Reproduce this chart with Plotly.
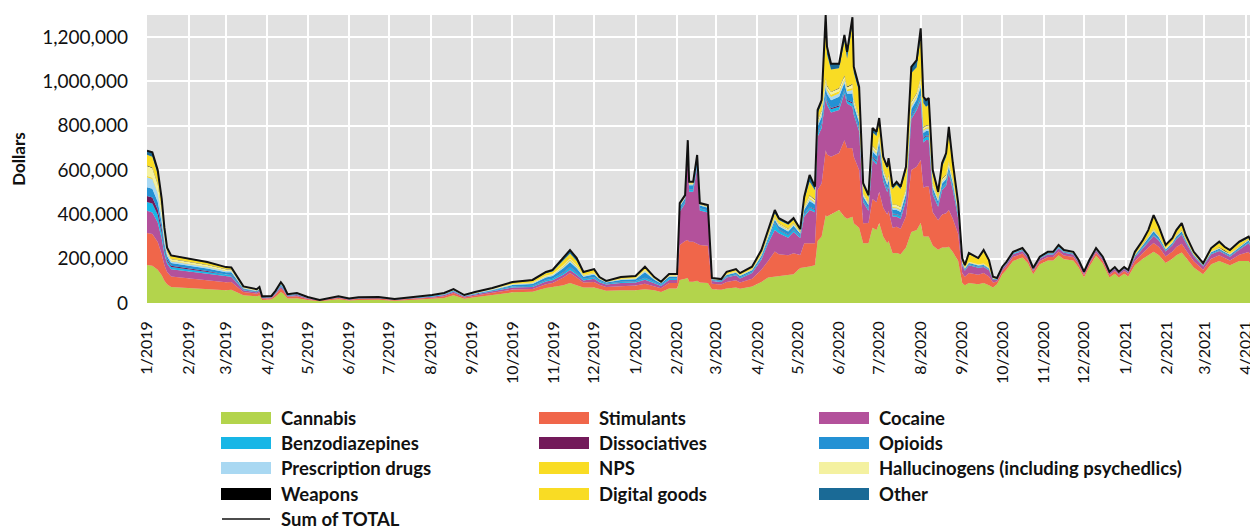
import plotly.graph_objects as go

# daily sales by drug category (thousands of dollars)
dates = [
    "2019-01-01", "2019-01-05", "2019-01-09", "2019-01-12", "2019-01-14", "2019-01-16", "2019-01-19", "2019-02-01", "2019-02-15", "2019-03-01",
    "2019-03-05", "2019-03-14", "2019-03-24", "2019-03-26", "2019-03-28", "2019-04-04", "2019-04-07", "2019-04-11", "2019-04-13", "2019-04-16",
    "2019-04-23", "2019-05-01", "2019-05-10", "2019-05-24", "2019-06-01", "2019-06-08", "2019-06-23", "2019-07-05", "2019-07-20", "2019-08-02",
    "2019-08-11", "2019-08-18", "2019-08-26", "2019-09-03", "2019-09-16", "2019-10-01", "2019-10-16", "2019-10-26", "2019-10-31", "2019-11-08",
    "2019-11-13", "2019-11-18", "2019-11-23", "2019-12-01", "2019-12-05", "2019-12-10", "2019-12-21", "2020-01-01", "2020-01-08", "2020-01-15",
    "2020-01-20", "2020-01-26", "2020-02-01", "2020-02-03", "2020-02-07", "2020-02-09", "2020-02-10", "2020-02-13", "2020-02-16", "2020-02-18",
    "2020-02-24", "2020-02-27", "2020-03-05", "2020-03-09", "2020-03-16", "2020-03-19", "2020-03-28", "2020-04-04", "2020-04-09", "2020-04-14",
    "2020-04-17", "2020-04-24", "2020-04-28", "2020-05-03", "2020-05-06", "2020-05-10", "2020-05-14", "2020-05-16", "2020-05-19", "2020-05-22",
    "2020-05-23", "2020-05-26", "2020-06-01", "2020-06-05", "2020-06-07", "2020-06-11", "2020-06-12", "2020-06-16", "2020-06-19", "2020-06-23",
    "2020-06-26", "2020-06-29", "2020-07-01", "2020-07-04", "2020-07-07", "2020-07-08", "2020-07-11", "2020-07-14", "2020-07-17", "2020-07-21",
    "2020-07-25", "2020-07-29", "2020-08-01", "2020-08-03", "2020-08-05", "2020-08-07", "2020-08-10", "2020-08-14", "2020-08-17", "2020-08-20",
    "2020-08-22", "2020-08-25", "2020-08-29", "2020-09-01", "2020-09-03", "2020-09-06", "2020-09-13", "2020-09-17", "2020-09-21", "2020-09-24",
    "2020-09-27", "2020-10-01", "2020-10-04", "2020-10-09", "2020-10-16", "2020-10-20", "2020-10-24", "2020-10-29", "2020-11-04", "2020-11-08",
    "2020-11-12", "2020-11-16", "2020-11-23", "2020-11-27", "2020-12-01", "2020-12-05", "2020-12-10", "2020-12-15", "2020-12-20", "2020-12-24",
    "2020-12-27", "2020-12-31", "2021-01-03", "2021-01-08", "2021-01-14", "2021-01-18", "2021-01-22", "2021-01-26", "2021-01-31", "2021-02-05",
    "2021-02-08", "2021-02-12", "2021-02-15", "2021-02-21", "2021-02-28", "2021-03-06", "2021-03-12", "2021-03-16", "2021-03-20", "2021-03-27",
    "2021-04-03", "2021-04-05",
]

cannabis = [
    171, 168, 150, 125, 100, 85, 72, 68, 62, 58,
    60, 35, 30, 34, 14, 16, 28, 50, 42, 20,
    22, 13, 8, 17, 11, 14, 15, 10, 15, 18,
    23, 35, 19, 26, 36, 48, 51, 68, 72, 80,
    90, 80, 70, 70, 62, 55, 57, 57, 62, 57,
    50, 65, 65, 104, 110, 113, 96, 96, 100, 92,
    90, 62, 60, 65, 70, 64, 75, 95, 115, 119,
    120, 125, 130, 158, 160, 165, 170, 280, 300, 396,
    390, 400, 420, 389, 380, 389, 360, 340, 270, 270,
    340, 330, 361, 300, 270, 280, 225, 226, 220, 250,
    320, 329, 361, 300, 300, 300, 260, 240, 250, 250,
    254, 230, 190, 90, 80, 90, 85, 90, 80, 70,
    85, 130, 150, 190, 205, 180, 130, 175, 192, 192,
    215, 198, 192, 160, 115, 165, 213, 178, 115, 132,
    115, 132, 120, 170, 200, 215, 231, 215, 180, 200,
    215, 228, 205, 160, 130, 175, 190, 180, 170, 190,
    190, 170,
]
stimulants = [
    145, 143, 125, 95, 70, 55, 48, 44, 42, 36,
    35, 15, 12, 14, 6, 6, 10, 15, 13, 8,
    9, 5, 3, 6, 4, 5, 5, 4, 5, 6,
    8, 10, 6, 8, 10, 13, 12, 17, 18, 35,
    45, 35, 22, 25, 20, 17, 20, 22, 25, 20,
    17, 25, 25, 158, 170, 171, 181, 181, 170, 170,
    168, 25, 24, 30, 33, 29, 35, 55, 75, 113,
    100, 90, 95, 59, 110, 105, 100, 230, 240, 294,
    280, 260, 257, 346, 320, 310, 300, 260, 90, 91,
    130, 125, 141, 130, 130, 135, 115, 118, 115, 140,
    280, 286, 284, 220, 226, 226, 150, 134, 150, 155,
    166, 150, 120, 45, 38, 45, 42, 45, 40, 22,
    12, 14, 15, 18, 18, 16, 12, 15, 16, 16,
    18, 16, 16, 14, 11, 12, 14, 13, 11, 12,
    11, 12, 12, 20, 28, 35, 40, 38, 30, 33,
    38, 40, 35, 28, 20, 25, 25, 23, 22, 28,
    40, 40,
]
cocaine = [
    100, 98, 88, 70, 50, 38, 32, 30, 28, 24,
    23, 8, 6, 7, 3, 3, 5, 8, 7, 4,
    5, 3, 1, 3, 2, 3, 3, 2, 3, 4,
    5, 6, 4, 5, 7, 9, 9, 12, 13, 12,
    14, 12, 10, 15, 12, 11, 13, 14, 18, 12,
    10, 14, 14, 150, 170, 400, 225, 225, 340, 156,
    150, 12, 11, 20, 22, 18, 25, 45, 80, 97,
    95, 80, 95, 76, 120, 150, 140, 240, 250, 235,
    225, 200, 194, 212, 200, 187, 190, 175, 96, 55,
    175, 170, 188, 120, 100, 110, 50, 45, 45, 70,
    230, 256, 271, 205, 210, 210, 80, 60, 110, 125,
    166, 130, 70, 35, 28, 35, 32, 27, 28, 12,
    8, 9, 10, 12, 12, 11, 8, 10, 11, 11,
    14, 13, 11, 10, 8, 9, 10, 9, 8, 9,
    8, 9, 8, 15, 20, 25, 31, 28, 22, 28,
    35, 40, 32, 22, 15, 20, 20, 18, 17, 22,
    40, 38,
]
benzodiazepines = [
    40, 40, 35, 27, 18, 12, 10, 9, 8, 7,
    7, 3, 2, 3, 1, 1, 2, 4, 3, 2,
    2, 1, 1, 1, 1, 1, 1, 0, 1, 2,
    2, 2, 2, 2, 3, 4, 5, 6, 6, 10,
    12, 10, 6, 6, 5, 4, 5, 5, 8, 5,
    4, 5, 5, 8, 9, 8, 10, 10, 10, 8,
    8, 3, 3, 4, 4, 4, 5, 6, 8, 32,
    15, 12, 12, 8, 10, 12, 10, 14, 15, 15,
    15, 15, 15, 12, 12, 15, 12, 12, 8, 8,
    12, 12, 12, 10, 10, 10, 10, 10, 10, 10,
    12, 12, 15, 15, 15, 15, 10, 8, 10, 10,
    10, 10, 8, 4, 3, 4, 4, 4, 3, 2,
    2, 2, 2, 3, 3, 2, 2, 2, 3, 3,
    3, 3, 3, 2, 1, 2, 2, 2, 1, 2,
    1, 2, 2, 3, 4, 4, 5, 4, 3, 3,
    3, 3, 3, 2, 2, 3, 3, 3, 3, 3,
    3, 3,
]
dissociatives = [
    27, 27, 24, 18, 12, 8, 6, 6, 5, 4,
    4, 1, 1, 1, 1, 1, 1, 1, 1, 1,
    1, 0, 0, 0, 0, 0, 0, 0, 0, 0,
    0, 0, 0, 0, 0, 1, 1, 1, 1, 2,
    3, 2, 1, 1, 1, 1, 1, 1, 1, 1,
    1, 1, 1, 2, 2, 2, 2, 2, 2, 2,
    2, 1, 1, 1, 1, 1, 1, 1, 2, 2,
    2, 2, 2, 2, 3, 3, 3, 5, 5, 5,
    5, 5, 5, 4, 4, 5, 4, 4, 2, 2,
    5, 5, 5, 4, 3, 3, 3, 3, 3, 3,
    4, 4, 5, 5, 5, 5, 3, 2, 3, 3,
    3, 3, 2, 1, 1, 1, 1, 1, 1, 1,
    0, 1, 1, 1, 1, 1, 1, 1, 1, 1,
    1, 1, 1, 1, 1, 1, 1, 1, 1, 1,
    1, 1, 1, 1, 1, 1, 2, 1, 1, 1,
    1, 2, 1, 1, 1, 1, 1, 1, 1, 1,
    1, 1,
]
opioids = [
    40, 40, 35, 27, 20, 14, 13, 12, 11, 10,
    10, 4, 3, 3, 2, 2, 3, 5, 4, 2,
    2, 1, 1, 1, 1, 1, 1, 1, 1, 2,
    2, 3, 1, 2, 3, 6, 8, 11, 12, 18,
    20, 18, 10, 12, 7, 5, 8, 8, 25, 10,
    6, 8, 8, 12, 12, 20, 18, 18, 25, 12,
    12, 4, 4, 6, 7, 6, 7, 10, 16, 13,
    15, 14, 15, 10, 18, 25, 22, 28, 30, 30,
    30, 35, 40, 30, 28, 40, 26, 24, 15, 15,
    22, 22, 22, 18, 18, 18, 18, 18, 18, 20,
    30, 30, 40, 22, 20, 22, 16, 14, 16, 16,
    16, 16, 14, 6, 5, 5, 5, 5, 4, 3,
    2, 2, 2, 2, 3, 2, 2, 2, 3, 3,
    4, 3, 3, 2, 1, 2, 2, 2, 1, 2,
    1, 2, 2, 5, 8, 10, 15, 10, 6, 6,
    8, 10, 7, 4, 3, 5, 6, 5, 5, 6,
    8, 7,
]
prescription = [
    45, 44, 38, 28, 20, 10, 8, 8, 7, 6,
    6, 2, 2, 2, 1, 1, 2, 3, 2, 1,
    1, 1, 0, 0, 0, 1, 0, 0, 0, 1,
    1, 1, 1, 1, 1, 2, 3, 4, 4, 6,
    8, 6, 4, 4, 3, 2, 3, 3, 5, 3,
    2, 3, 3, 4, 4, 5, 4, 4, 5, 3,
    3, 1, 1, 2, 2, 2, 2, 3, 4, 5,
    5, 5, 5, 4, 6, 10, 8, 12, 12, 15,
    15, 15, 15, 12, 12, 15, 10, 10, 5, 5,
    10, 10, 10, 8, 8, 8, 8, 8, 8, 8,
    12, 12, 15, 10, 10, 10, 8, 6, 8, 8,
    8, 8, 5, 2, 2, 2, 2, 2, 2, 1,
    1, 1, 1, 1, 1, 1, 1, 1, 1, 1,
    1, 1, 1, 1, 1, 1, 1, 1, 1, 1,
    1, 1, 1, 2, 2, 3, 3, 3, 2, 2,
    2, 2, 2, 1, 1, 2, 2, 2, 2, 2,
    2, 2,
]
nps = [
    5, 5, 4, 3, 3, 2, 2, 2, 2, 2,
    1, 1, 1, 1, 0, 0, 1, 1, 1, 0,
    0, 0, 0, 0, 0, 0, 0, 0, 0, 0,
    1, 1, 0, 1, 1, 1, 2, 2, 2, 4,
    5, 4, 3, 3, 2, 1, 2, 2, 3, 2,
    1, 2, 2, 3, 3, 4, 4, 4, 5, 3,
    3, 1, 1, 2, 2, 2, 2, 3, 4, 5,
    4, 4, 4, 3, 4, 5, 4, 6, 6, 10,
    8, 10, 10, 8, 8, 10, 8, 6, 3, 3,
    5, 5, 5, 4, 4, 4, 4, 4, 4, 5,
    6, 6, 8, 6, 6, 6, 4, 3, 4, 4,
    5, 4, 3, 2, 2, 2, 2, 2, 2, 1,
    1, 1, 1, 1, 1, 1, 1, 1, 1, 1,
    2, 1, 1, 1, 1, 1, 1, 1, 1, 1,
    1, 1, 1, 2, 3, 3, 5, 4, 2, 2,
    3, 4, 3, 2, 1, 2, 3, 2, 2, 2,
    2, 2,
]
hallucinogens = [
    45, 44, 38, 28, 18, 10, 8, 8, 7, 5,
    5, 2, 1, 2, 1, 1, 1, 2, 1, 1,
    1, 1, 0, 1, 0, 0, 1, 0, 1, 1,
    1, 1, 1, 1, 1, 2, 2, 3, 3, 4,
    5, 4, 2, 2, 1, 1, 1, 2, 3, 1,
    1, 2, 2, 2, 2, 3, 2, 2, 3, 1,
    1, 1, 1, 1, 2, 1, 2, 2, 3, 3,
    3, 3, 3, 2, 5, 10, 8, 10, 10, 15,
    12, 12, 12, 12, 10, 15, 10, 10, 5, 5,
    10, 10, 10, 8, 10, 10, 10, 10, 10, 10,
    12, 12, 15, 8, 8, 8, 8, 5, 8, 8,
    10, 8, 5, 2, 2, 2, 2, 2, 1, 1,
    0, 1, 1, 1, 1, 1, 0, 1, 1, 1,
    1, 1, 1, 1, 1, 0, 1, 1, 1, 1,
    1, 1, 1, 1, 2, 2, 3, 2, 1, 1,
    2, 2, 1, 1, 1, 1, 2, 1, 1, 1,
    1, 1,
]
weapons = [
    3, 3, 3, 2, 2, 1, 1, 1, 1, 1,
    1, 0, 0, 0, 0, 0, 0, 0, 0, 0,
    0, 0, 0, 0, 0, 0, 0, 0, 0, 0,
    0, 0, 0, 0, 0, 0, 0, 0, 0, 1,
    1, 1, 0, 0, 0, 0, 0, 0, 0, 0,
    0, 0, 0, 1, 1, 1, 1, 1, 1, 1,
    1, 0, 0, 0, 0, 0, 0, 1, 1, 1,
    1, 1, 1, 1, 1, 2, 2, 2, 2, 3,
    3, 2, 2, 3, 3, 3, 2, 2, 1, 1,
    2, 2, 2, 2, 2, 2, 2, 2, 2, 2,
    2, 2, 3, 2, 2, 2, 2, 1, 2, 2,
    2, 2, 1, 0, 0, 0, 0, 0, 0, 0,
    0, 0, 0, 0, 0, 0, 0, 0, 0, 0,
    0, 0, 0, 0, 0, 0, 0, 0, 0, 0,
    0, 0, 0, 0, 1, 1, 1, 1, 0, 1,
    1, 1, 1, 0, 0, 0, 1, 1, 0, 1,
    1, 1,
]
digital_goods = [
    48, 48, 42, 33, 20, 12, 12, 10, 10, 7,
    6, 3, 3, 4, 1, 1, 2, 4, 3, 1,
    1, 2, 0, 1, 1, 1, 1, 1, 1, 2,
    2, 3, 2, 3, 4, 6, 7, 10, 11, 18,
    20, 18, 8, 12, 3, 2, 5, 6, 10, 5,
    3, 4, 4, 5, 3, 6, 3, 3, 5, 2,
    3, 2, 1, 7, 7, 6, 7, 12, 15, 15,
    15, 17, 14, 6, 30, 60, 42, 30, 30, 230,
    140, 100, 90, 152, 127, 270, 119, 110, 35, 22,
    60, 63, 60, 45, 50, 60, 70, 90, 80, 80,
    130, 115, 183, 110, 84, 91, 45, 20, 55, 78,
    120, 55, 25, 12, 8, 35, 24, 55, 30, 5,
    1, 2, 2, 1, 2, 1, 1, 1, 1, 1,
    2, 1, 1, 1, 1, 1, 2, 1, 1, 1,
    1, 1, 1, 10, 12, 25, 55, 33, 12, 12,
    15, 20, 12, 8, 5, 10, 18, 13, 12, 15,
    5, 5,
]
other = [
    18, 20, 18, 14, 7, 3, 3, 2, 2, 2,
    2, 1, 1, 1, 0, 0, 0, 1, 1, 0,
    1, 0, 0, 0, 0, 0, 0, 0, 0, 0,
    0, 1, 0, 1, 2, 3, 4, 6, 7, 13,
    16, 13, 4, 3, 1, 1, 2, 2, 4, 1,
    1, 2, 2, 2, 1, 2, 1, 1, 2, 1,
    1, 1, 1, 3, 3, 2, 3, 6, 6, 15,
    8, 8, 7, 5, 13, 31, 16, 14, 16, 52,
    34, 26, 20, 30, 30, 31, 25, 23, 11, 10,
    19, 19, 19, 11, 10, 14, 10, 13, 10, 17,
    28, 32, 40, 28, 30, 30, 14, 9, 16, 18,
    35, 16, 8, 4, 2, 5, 4, 6, 3, 1,
    1, 1, 1, 1, 1, 1, 0, 0, 1, 1,
    1, 1, 1, 1, 0, 0, 1, 0, 0, 0,
    0, 0, 0, 2, 3, 5, 6, 5, 3, 4,
    6, 9, 5, 2, 1, 4, 6, 5, 4, 6,
    7, 7,
]

month_ticks = [
    "2019-01-01", "2019-02-01", "2019-03-01", "2019-04-01", "2019-05-01", "2019-06-01", "2019-07-01",
    "2019-08-01", "2019-09-01", "2019-10-01", "2019-11-01", "2019-12-01", "2020-01-01", "2020-02-01",
    "2020-03-01", "2020-04-01", "2020-05-01", "2020-06-01", "2020-07-01", "2020-08-01", "2020-09-01",
    "2020-10-01", "2020-11-01", "2020-12-01", "2021-01-01", "2021-02-01", "2021-03-01", "2021-04-01",
]
month_labels = [
    "1/2019", "2/2019", "3/2019", "4/2019", "5/2019", "6/2019", "7/2019", "8/2019", "9/2019", "10/2019",
    "11/2019", "12/2019", "1/2020", "2/2020", "3/2020", "4/2020", "5/2020", "6/2020", "7/2020", "8/2020",
    "9/2020", "10/2020", "11/2020", "12/2020", "1/2021", "2/2021", "3/2021", "4/2021",
]

# stacking order, bottom to top
series = [
    ("Cannabis", cannabis, "#b3d44c"),
    ("Stimulants", stimulants, "#f0664a"),
    ("Cocaine", cocaine, "#b3519b"),
    ("Benzodiazepines", benzodiazepines, "#17b6e6"),
    ("Dissociatives", dissociatives, "#731a5a"),
    ("Opioids", opioids, "#2391d4"),
    ("Prescription drugs", prescription, "#a9d8f2"),
    ("NPS", nps, "#f9dc24"),
    ("Hallucinogens (including psychedlics)", hallucinogens, "#f4f1a0"),
    ("Weapons", weapons, "#000000"),
    ("Digital goods", digital_goods, "#f9dc24"),
    ("Other", other, "#1a6a96"),
]

FONT = "Lato, Liberation Sans, sans-serif"

fig = go.Figure()
for name, vals, color in series:
    fig.add_trace(go.Scatter(
        x=dates, y=[v * 1000 for v in vals], name=name,
        mode="lines", stackgroup="drugs",
        line=dict(width=0, color=color), fillcolor=color,
        showlegend=False,
    ))

total = [sum(col) * 1000 for col in zip(*[s[1] for s in series])]
fig.add_trace(go.Scatter(x=dates, y=total, name="Sum of TOTAL", mode="lines",
                         line=dict(color="#111111", width=2), showlegend=False))

# legend, drawn by hand to get the wide Excel-style swatches
L, T, W, H = 147, 15, 1103, 288


def px(x):
    return (x - L) / W


def py(y):
    return (T + H - y) / H


legend_rows = [418, 443, 468, 494]
legend_cols = [221, 539, 819]
for i, (name, _, color) in enumerate(series):
    r, c = divmod(i, 3)
    yc = legend_rows[r]
    x0 = legend_cols[c]
    fig.add_shape(type="rect", xref="paper", yref="paper",
                  x0=px(x0), x1=px(x0 + 50), y0=py(yc - 6), y1=py(yc + 6),
                  fillcolor=color, line_width=0)
    fig.add_annotation(xref="paper", yref="paper", x=px(x0 + 58), y=py(yc),
                       text="<b>%s</b>" % name, showarrow=False,
                       xanchor="left", yanchor="middle",
                       font=dict(family=FONT, size=18.5, color="#111111"))

fig.add_shape(type="line", xref="paper", yref="paper",
              x0=px(222), x1=px(270), y0=py(519), y1=py(519),
              line=dict(color="#111111", width=1.5))
fig.add_annotation(xref="paper", yref="paper", x=px(279), y=py(519),
                   text="<b>Sum of TOTAL</b>", showarrow=False,
                   xanchor="left", yanchor="middle",
                   font=dict(family=FONT, size=18.5, color="#111111"))

fig.update_layout(
    width=1250, height=529,
    margin=dict(l=L, r=0, t=T, b=529 - T - H, autoexpand=False),
    paper_bgcolor="white", plot_bgcolor="#e1e1e1",
    font=dict(family=FONT, color="#111111"),
    showlegend=False,
)
fig.update_xaxes(
    type="date", range=["2019-01-01", "2021-04-04"],
    tickvals=month_ticks, ticktext=month_labels, tickangle=-90,
    tickfont=dict(size=16), showgrid=True, gridcolor="white", gridwidth=2,
    showline=False, zeroline=False, ticks="", ticklabelstandoff=14,
    ticklabeloverflow="allow",
)
fig.update_yaxes(
    range=[0, 1300000], dtick=200000, tickformat=",",
    tickfont=dict(size=19), showgrid=True, gridcolor="white", gridwidth=2,
    showline=False, zeroline=False, ticks="", ticklabelstandoff=18,
    title=dict(text="<b>Dollars</b>", font=dict(size=17), standoff=12),
)

# the page body has a default 8px margin; drop it so the figure sits at 0,0
fig.write_html("out.html", config={"displayModeBar": False},
               post_script="document.body.style.margin='0px';")
